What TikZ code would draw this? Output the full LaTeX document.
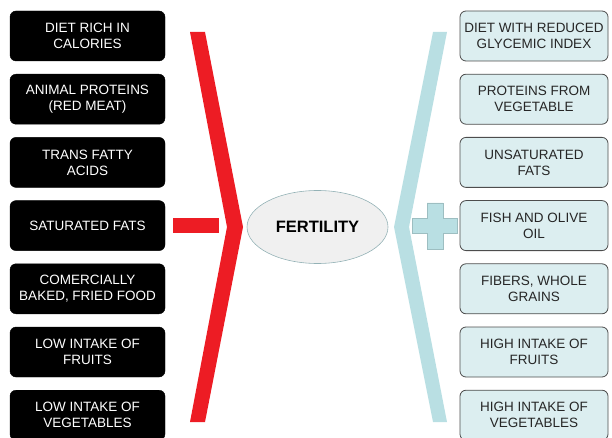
\documentclass[tikz,border=0pt]{standalone}
\usepackage{fontspec}
\setmainfont{Liberation Sans}
\usepackage{tikz}
\usetikzlibrary{shapes.geometric}
\definecolor{badred}{HTML}{ED1C24}
\definecolor{goodblue}{HTML}{B9DFE3}
\definecolor{goodfill}{HTML}{DCEEF0}
\definecolor{goodline}{HTML}{4D4D4D}
\tikzset{node distance=63.2pt,
	item/.style={rounded corners=6pt, minimum height=50pt, align=center, inner sep=0pt, font=\fontsize{13.5}{16}\selectfont},
	bad/.style={item, fill=black, draw=black, text=white, minimum width=155pt},
	good/.style={item, fill=goodfill, draw=goodline, line width=0.8pt, text=black!85, minimum width=148pt},
	center/.style={ellipse, fill=black!6, draw=goodblue!80!black, line width=0.6pt, minimum width=141pt, minimum height=73pt, font=\fontsize{16.5}{18}\selectfont\bfseries}}

\begin{document}
\begin{tikzpicture}[x=1pt,y=-1pt]
	\useasboundingbox (0,0) rectangle (612,438);
	\begin{scope}
	\clip (0,0) rectangle (612,438);
	% what lowers fertility
	\node[bad] (b1) at (87.5,36) {DIET RICH IN\\CALORIES};
	\node[bad] (b2) [below of=b1] {ANIMAL PROTEINS\\(RED MEAT)};
	\node[bad] (b3) [below of=b2] {TRANS FATTY\\ACIDS};
	\node[bad] (b4) [below of=b3] {SATURATED FATS};
	\node[bad] (b5) [below of=b4] {COMERCIALLY\\BAKED, FRIED FOOD};
	\node[bad] (b6) [below of=b5] {LOW INTAKE OF\\FRUITS};
	\node[bad] (b7) [below of=b6] {LOW INTAKE OF\\VEGETABLES};
	% what helps fertility
	\node[good] (g1) at (534,36) {DIET WITH REDUCED\\GLYCEMIC INDEX};
	\node[good] (g2) [below of=g1] {PROTEINS FROM\\VEGETABLE};
	\node[good] (g3) [below of=g2] {UNSATURATED\\FATS};
	\node[good] (g4) [below of=g3] {FISH AND OLIVE\\OIL};
	\node[good] (g5) [below of=g4] {FIBERS, WHOLE\\GRAINS};
	\node[good] (g6) [below of=g5] {HIGH INTAKE OF\\FRUITS};
	\node[good] (g7) [below of=g6] {HIGH INTAKE OF\\VEGETABLES};
	\end{scope}
	\node[center] (f) at (317.5,227) {FERTILITY};
	% brackets, minus and plus
	\fill[badred] (190,32) -- (205,32) -- (243,227) -- (205,422) -- (190,422) -- (227,227) -- cycle;
	\fill[badred] (173,218) rectangle (219,233);
	\fill[goodblue] (433,32) -- (447,32) -- (409,227) -- (447,422) -- (433,422) -- (394,227) -- cycle;
	\filldraw[fill=goodblue, draw=goodblue!85!black, line width=0.4pt]
		(412,218) -- (427,218) -- (427,203) -- (443,203) -- (443,218) -- (457,218)
		-- (457,233) -- (443,233) -- (443,249) -- (427,249) -- (427,233) -- (412,233) -- cycle;
\end{tikzpicture}
\end{document}
